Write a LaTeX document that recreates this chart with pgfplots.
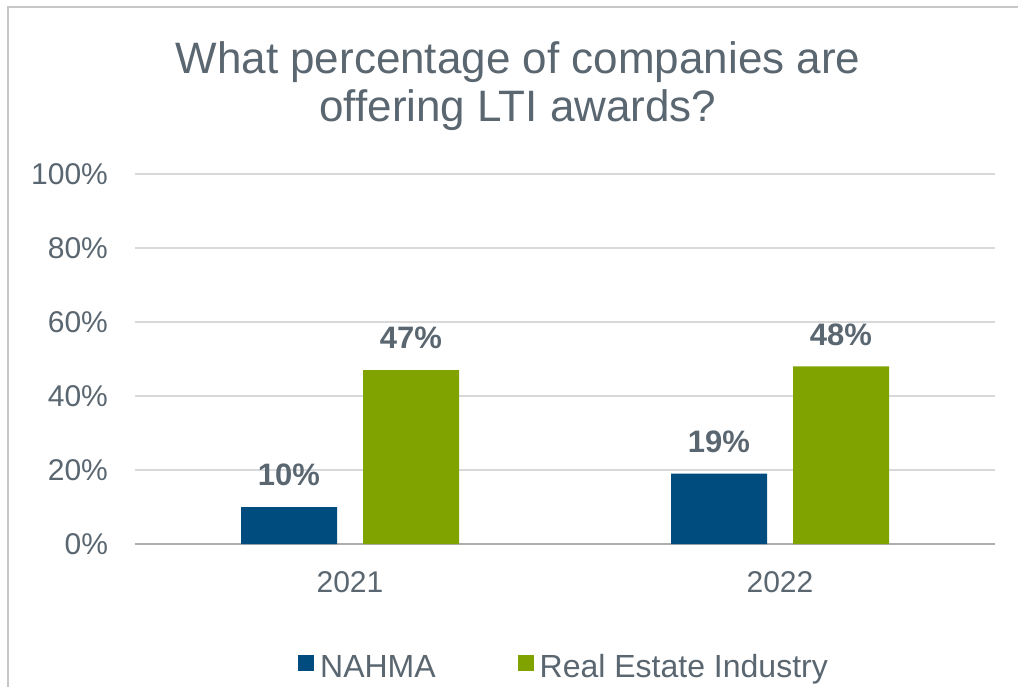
\documentclass[border=0pt]{standalone}
\usepackage{fontspec}
\setmainfont{Liberation Sans}
\usepackage{pgfplots}
\pgfplotsset{compat=1.18}
\definecolor{txt}{HTML}{5A6670}
\definecolor{nahma}{HTML}{004C7E}
\definecolor{reind}{HTML}{80A300}
\definecolor{gridc}{HTML}{D9D9D9}
\begin{document}
\begin{tikzpicture}
\useasboundingbox (0,0) rectangle (509pt,343pt);
\clip (0,0) rectangle (509pt,343pt);
% chart frame (cropped on the right and bottom)
\draw[line width=1.2pt, color=black!22] (4pt,-5pt) -- (4pt,339.5pt) -- (520pt,339.5pt);
\node[anchor=base, font=\fontsize{22}{26}\selectfont, text=txt] at (259pt,306pt) {What percentage of companies are};
\node[anchor=base, font=\fontsize{22}{26}\selectfont, text=txt] at (259pt,282pt) {offering LTI awards?};
\begin{axis}[
  at={(67.5pt,71pt)}, anchor=south west,
  width=430pt, height=185pt, scale only axis,
  /pgf/number format/assume math mode=true,
  ybar=13pt, bar width=48pt,
  xmin=-0.5, xmax=1.5, ymin=0, ymax=100,
  xtick=data, xticklabels={2021,2022},
  ytick={0,20,...,100},
  yticklabels={0\%,20\%,40\%,60\%,80\%,100\%},
  major tick length=0pt,
  ymajorgrids, grid style={gridc, line width=1pt},
  separate axis lines,
  axis x line*=bottom, axis y line*=left,
  x axis line style={draw=gridc!80!black, line width=1pt},
  y axis line style={draw=none},
  ticklabel style={font=\fontsize{15}{18}\selectfont, text=txt},
  xticklabel style={yshift=-10pt},
  yticklabel style={xshift=-10pt},
  nodes near coords={\pgfmathprintnumber{\pgfplotspointmeta}\%},
  nodes near coords style={font=\fontsize{15.5}{18}\selectfont\bfseries, text=txt, yshift=7pt},
  legend columns=2,
  legend style={draw=none, at={(0.5,0)}, anchor=north, yshift=-51pt,
    font=\fontsize{16}{19}\selectfont, text=txt,
    /tikz/every even column/.append style={column sep=39pt}},
  legend image code/.code={\fill[#1] (0pt,-2pt) rectangle (8pt,6pt);\path (9pt,0pt);},
]
\addplot[fill=nahma, draw=none] coordinates {(0,10) (1,19)};
\addplot[fill=reind, draw=none] coordinates {(0,47) (1,48)};
\legend{NAHMA, Real Estate Industry}
\end{axis}
\end{tikzpicture}
\end{document}
